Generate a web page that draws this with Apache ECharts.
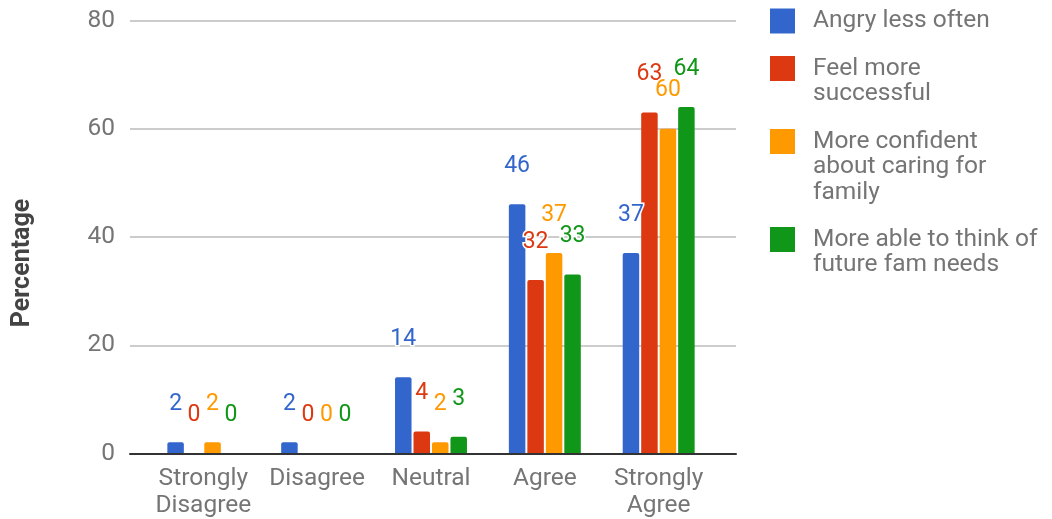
<!DOCTYPE html>
<html>
<head>
<meta charset="utf-8">
<script src="https://cdn.jsdelivr.net/npm/echarts@6/dist/echarts.min.js"></script>
<style>
  html, body { margin: 0; padding: 0; background: #fff; }
  #chart { width: 1052px; height: 519px; }
</style>
</head>
<body>
<div id="chart"></div>
<script>
// Survey responses, percentage per answer
const categories = ['Strongly\nDisagree', 'Disagree', 'Neutral', 'Agree', 'Strongly\nAgree'];
const seriesNames = [
  'Angry less often',
  'Feel more\nsuccessful',
  'More confident\nabout caring for\nfamily',
  'More able to think of\nfuture fam needs'
];
const angryLessOften = [2, 2, 14, 46, 37];
const feelMoreSuccessful = [0, 0, 4, 32, 63];
const moreConfident = [2, 0, 2, 37, 60];
const moreAbleFutureNeeds = [0, 0, 3, 33, 64];
const yTicks = [0, 20, 40, 60, 80];

const colors = ['#3366cc', '#dc3912', '#ff9900', '#109618'];
const values = [angryLessOften, feelMoreSuccessful, moreConfident, moreAbleFutureNeeds];
const FONT = 'Roboto, "Noto Sans", sans-serif';
const GREY = '#757575';
const TEXT_SIZE = 24.5;

const plotTop = 20.5, plotBottom = 65.5;

const series = values.map((v, i) => ({
  name: seriesNames[i],
  type: 'bar',
  xAxisIndex: 1,
  yAxisIndex: 1,
  data: v,
  barWidth: 16.5,
  barGap: '12%',
  itemStyle: { color: colors[i], borderRadius: [2, 2, 0, 0] },
  label: {
    show: true,
    position: 'top',
    distance: 28,
    color: colors[i],
    fontFamily: FONT,
    fontSize: 23,
    lineHeight: 20,
    textBorderColor: '#fff',
    textBorderWidth: 3
  },
  z: 2
}));

// One legend block per series; blank leading lines keep the first text
// line level with the colour swatch
const legendL = 25.5;
const iconTops = [8.5, 56, 129, 227];
const legends = seriesNames.map((name, i) => {
  const n = name.split('\n').length;
  const c = iconTops[i] + 12.5;
  return {
    left: 770,
    top: c - (2 * n - 1) * legendL / 2,
    padding: 0,
    orient: 'vertical',
    itemWidth: 25,
    itemHeight: 25,
    icon: 'rect',
    selectedMode: false,
    data: [{ name: name }],
    formatter: (label) => '\n'.repeat(n - 1) + label,
    textStyle: {
      color: GREY,
      fontFamily: FONT,
      fontSize: TEXT_SIZE,
      lineHeight: legendL,
      padding: [0, 0, 0, 13]
    }
  };
});

const option = {
  animation: false,
  backgroundColor: '#fff',
  color: colors,
  legend: legends,
  grid: [
    { left: 130, right: 316, top: plotTop, bottom: plotBottom },
    { left: 146.4, right: 336.4, top: plotTop, bottom: plotBottom }
  ],
  xAxis: [
    {
      gridIndex: 0, type: 'value', min: 0, max: 1,
      axisLine: { show: true, lineStyle: { color: '#333', width: 2 } },
      axisTick: { show: false }, axisLabel: { show: false }, splitLine: { show: false },
      z: 5
    },
    {
      gridIndex: 1, type: 'category', data: categories,
      axisLine: { show: false }, axisTick: { show: false },
      axisLabel: {
        color: GREY, fontFamily: FONT, fontSize: TEXT_SIZE, lineHeight: 27,
        margin: 12, interval: 0
      }
    }
  ],
  yAxis: [
    {
      gridIndex: 0, type: 'value', min: yTicks[0], max: yTicks[yTicks.length - 1], interval: 20,
      axisLine: { show: false }, axisTick: { show: false },
      axisLabel: { color: GREY, fontFamily: FONT, fontSize: TEXT_SIZE, margin: 15 },
      splitLine: { lineStyle: { color: '#cccccc', width: 2 } }
    },
    {
      gridIndex: 1, type: 'value', min: yTicks[0], max: yTicks[yTicks.length - 1], interval: 20,
      show: false, splitLine: { show: false }
    }
  ],
  graphic: [{
    type: 'text',
    x: 23, y: 263,
    rotation: Math.PI / 2,
    style: {
      text: 'Percentage',
      fill: '#444',
      font: 'bold 25px ' + FONT,
      align: 'center',
      verticalAlign: 'middle'
    }
  }],
  series: series
};

const chart = echarts.init(document.getElementById('chart'), null, { renderer: 'canvas' });
chart.setOption(option);
</script>
</body>
</html>
